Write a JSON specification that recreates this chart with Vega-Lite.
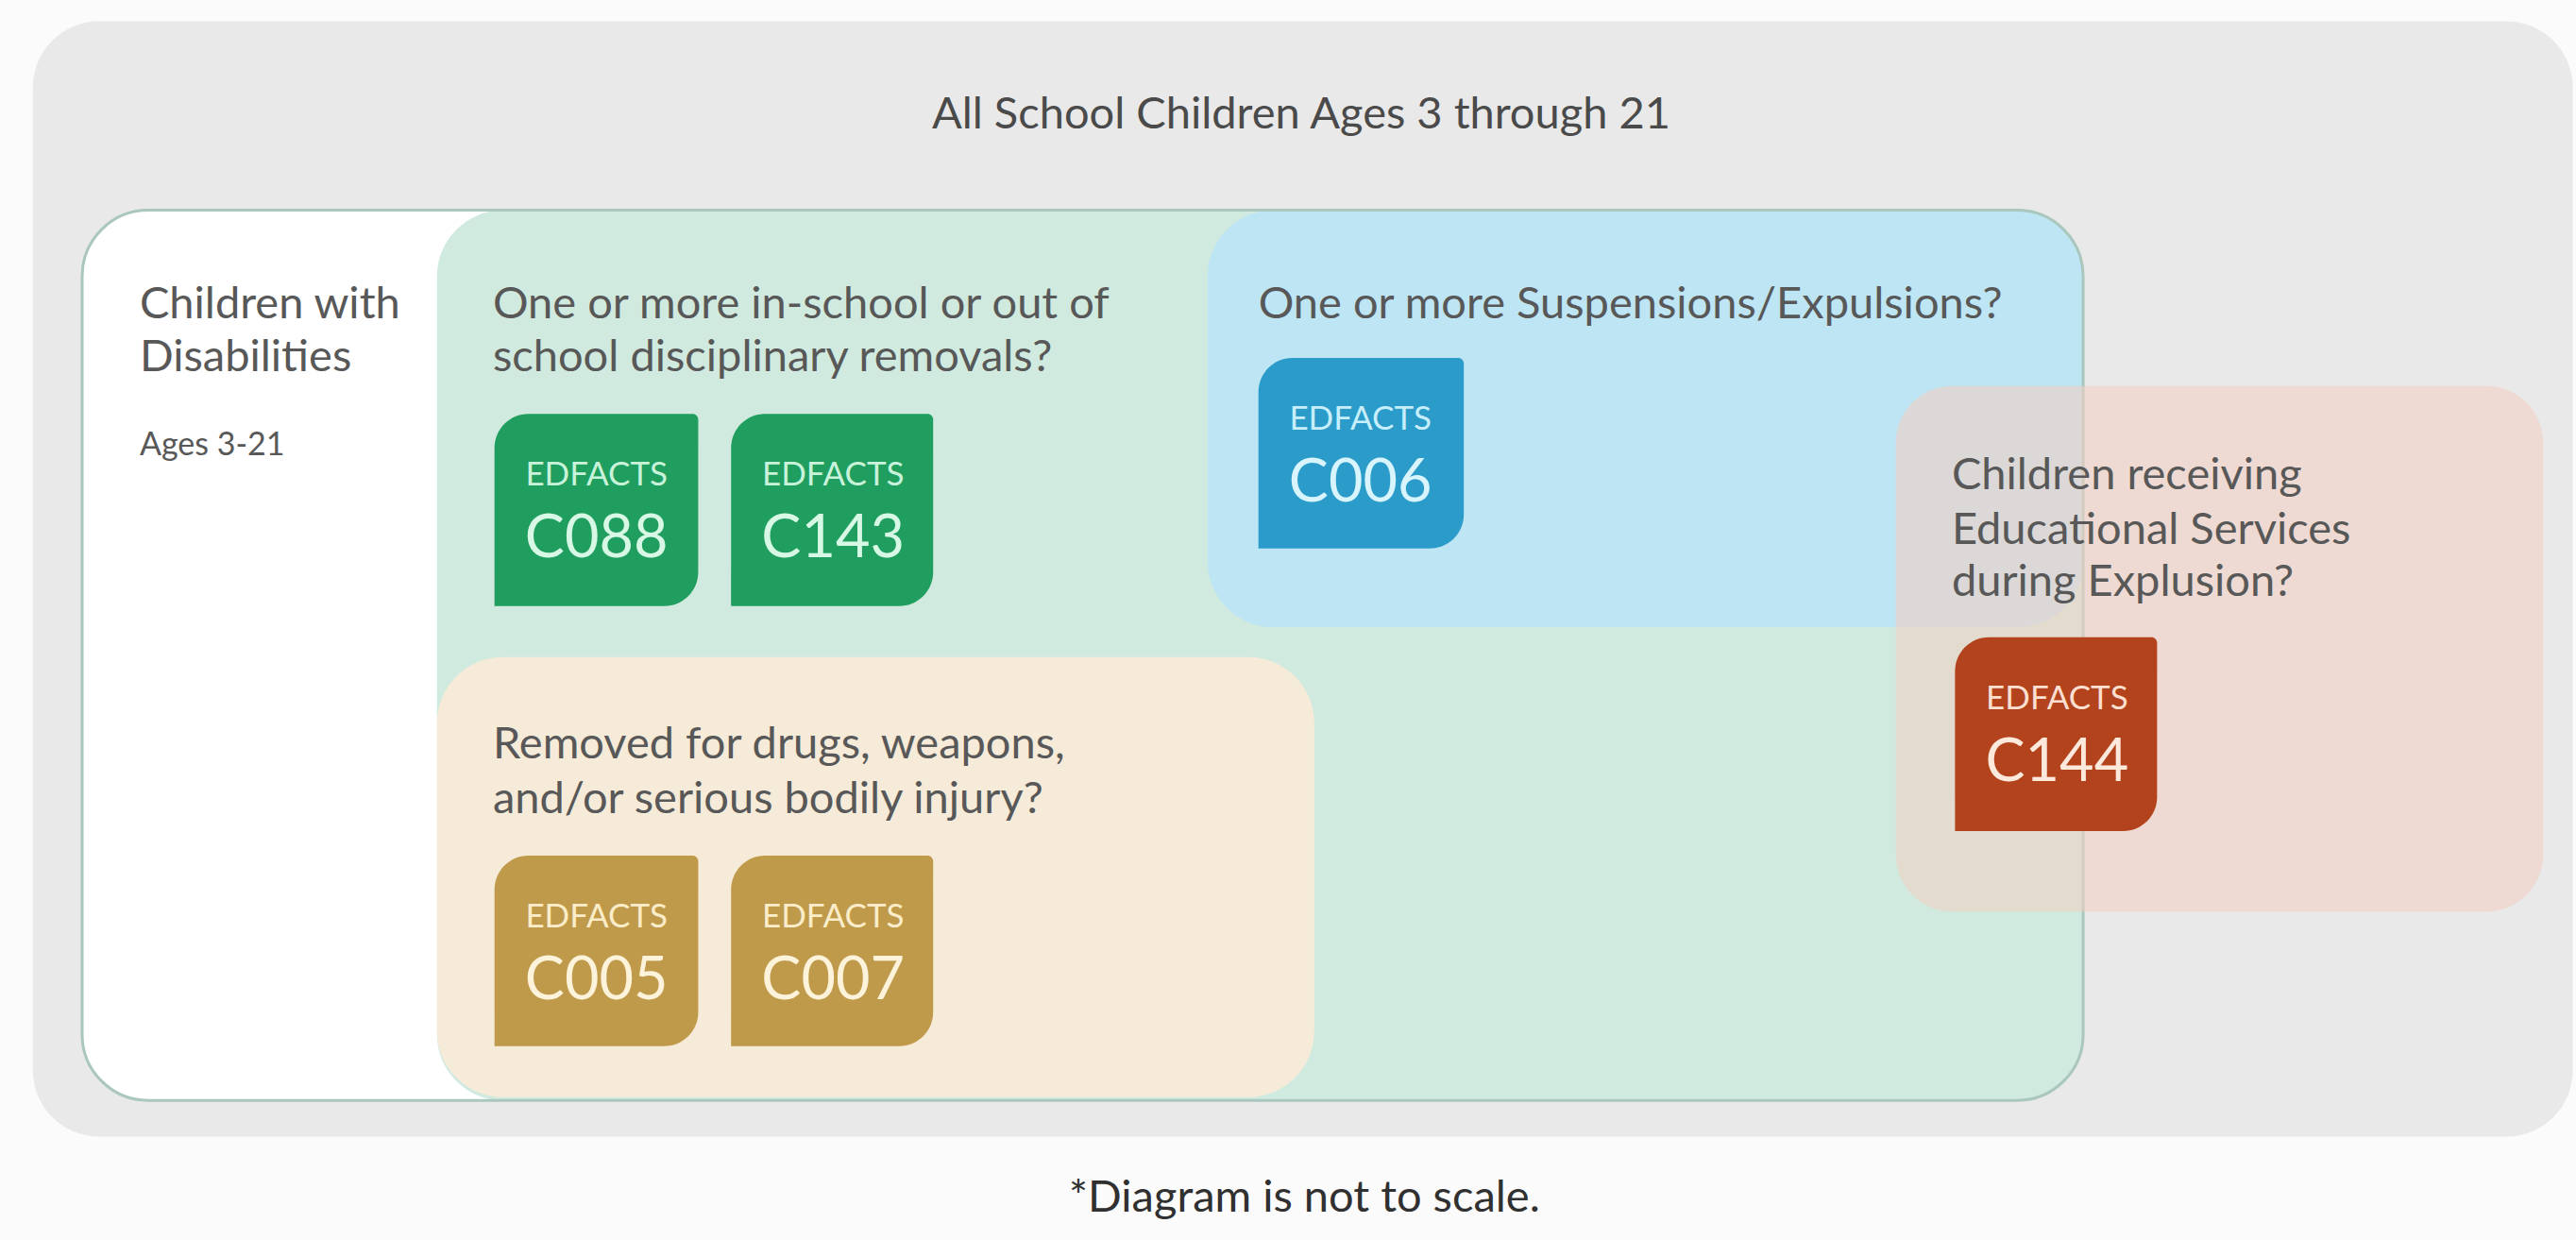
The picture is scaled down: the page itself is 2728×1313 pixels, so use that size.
{
  "$schema": "https://vega.github.io/schema/vega-lite/v6.json",
  "width": 2728,
  "height": 1313,
  "autosize": {"type": "fit", "contains": "padding"},
  "padding": 0,
  "background": "#fbfbfb",
  "config": {"view": {"stroke": null}, "axis": {"disable": true}, "text": {"font": "Lato"}},
  "datasets": {
    "regions": [
      {"name": "All School Children", "x": 20, "x2": 1566, "y": 13, "y2": 692},
      {"name": "Children with Disabilities", "x": 50, "x2": 1268, "y": 128, "y2": 670},
      {"name": "Disciplinary removals", "x": 266, "x2": 1268, "y": 128, "y2": 670},
      {"name": "Suspensions/Expulsions", "x": 735, "x2": 1268, "y": 128, "y2": 382},
      {"name": "Drugs/weapons/injury", "x": 266, "x2": 800, "y": 400, "y2": 668}
    ],
    "services": [
      {"name": "Educational Services during Expulsion", "x": 1154, "x2": 1548, "y": 235, "y2": 555}
    ],
    "badges": [
      {"code": "C088", "grp": "removal", "x": 301, "x2": 425, "y": 252, "y2": 369},
      {"code": "C143", "grp": "removal", "x": 445, "x2": 568, "y": 252, "y2": 369},
      {"code": "C006", "grp": "suspension", "x": 766, "x2": 891, "y": 218, "y2": 334},
      {"code": "C005", "grp": "drugs", "x": 301, "x2": 425, "y": 521, "y2": 637},
      {"code": "C007", "grp": "drugs", "x": 445, "x2": 568, "y": 521, "y2": 637},
      {"code": "C144", "grp": "services", "x": 1190, "x2": 1313, "y": 388, "y2": 506}
    ],
    "labels": [
      {"t": "Children with", "x": 85, "y": 194},
      {"t": "Disabilities", "x": 85, "y": 226},
      {"t": "One or more in-school or out of", "x": 300, "y": 194},
      {"t": "school disciplinary removals?", "x": 300, "y": 226},
      {"t": "One or more Suspensions/Expulsions?", "x": 766, "y": 194},
      {"t": "Children receiving", "x": 1188, "y": 298},
      {"t": "Educational Services", "x": 1188, "y": 331},
      {"t": "during Explusion?", "x": 1188, "y": 363},
      {"t": "Removed for drugs, weapons,", "x": 300, "y": 462},
      {"t": "and/or serious bodily injury?", "x": 300, "y": 495}
    ],
    "small": [{"t": "Ages 3-21", "x": 85, "y": 277}],
    "title": [{"t": "All School Children Ages 3 through 21", "x": 792, "y": 78}],
    "footer": [{"t": "*Diagram is not to scale.", "x": 794, "y": 738}]
  },
  "resolve": {"scale": {"color": "independent"}},
  "layer": [
    {
      "data": {"name": "regions"},
      "mark": {"type": "rect", "cornerRadius": 70},
      "encoding": {
        "x": {"field": "x", "type": "quantitative", "scale": {"domain": [0, 1568], "nice": false, "zero": false}},
        "x2": {"field": "x2"},
        "y": {"field": "y", "type": "quantitative", "scale": {"domain": [755, 0], "nice": false, "zero": false}},
        "y2": {"field": "y2"},
        "color": {"field": "name", "type": "nominal", "legend": null,
          "scale": {"domain": ["All School Children", "Children with Disabilities", "Disciplinary removals", "Suspensions/Expulsions", "Drugs/weapons/injury"],
                    "range": ["#e9e9e9", "#ffffff", "#d1eadf", "#bee5f4", "#f6ebd8"]}}
      }
    },
    {
      "data": {"name": "regions"},
      "transform": [{"filter": "datum.name === 'Children with Disabilities'"}],
      "mark": {"type": "rect", "cornerRadius": 70, "fill": "transparent", "stroke": "#aac7bd", "strokeWidth": 3},
      "encoding": {
        "x": {"field": "x", "type": "quantitative", "scale": {"domain": [0, 1568], "nice": false, "zero": false}},
        "x2": {"field": "x2"},
        "y": {"field": "y", "type": "quantitative", "scale": {"domain": [755, 0], "nice": false, "zero": false}},
        "y2": {"field": "y2"}
      }
    },
    {
      "data": {"name": "services"},
      "mark": {"type": "rect", "cornerRadius": 60, "fill": "#f3cdbf", "opacity": 0.55},
      "encoding": {
        "x": {"field": "x", "type": "quantitative", "scale": {"domain": [0, 1568], "nice": false, "zero": false}},
        "x2": {"field": "x2"},
        "y": {"field": "y", "type": "quantitative", "scale": {"domain": [755, 0], "nice": false, "zero": false}},
        "y2": {"field": "y2"}
      }
    },
    {
      "data": {"name": "badges"},
      "mark": {"type": "rect", "cornerRadiusTopLeft": 36, "cornerRadiusBottomRight": 36, "cornerRadiusTopRight": 6},
      "encoding": {
        "x": {"field": "x", "type": "quantitative", "scale": {"domain": [0, 1568], "nice": false, "zero": false}},
        "x2": {"field": "x2"},
        "y": {"field": "y", "type": "quantitative", "scale": {"domain": [755, 0], "nice": false, "zero": false}},
        "y2": {"field": "y2"},
        "color": {"field": "grp", "type": "nominal", "legend": null,
          "scale": {"domain": ["removal", "suspension", "drugs", "services"], "range": ["#1f9e5f", "#2b9cc9", "#c09a4b", "#b3431d"]}}
      }
    },
    {
      "data": {"name": "badges"},
      "mark": {"type": "text", "align": "center", "baseline": "alphabetic", "dx": 108, "dy": 76, "fontSize": 35, "font": "Lato"},
      "encoding": {
        "x": {"field": "x", "type": "quantitative", "scale": {"domain": [0, 1568], "nice": false, "zero": false}},
        "y": {"field": "y", "type": "quantitative", "scale": {"domain": [755, 0], "nice": false, "zero": false}},
        "text": {"value": "EDFACTS"},
        "color": {"field": "grp", "type": "nominal", "legend": null,
          "scale": {"domain": ["removal", "suspension", "drugs", "services"], "range": ["#c8f3da", "#c6eefb", "#fbedc9", "#fbdfd0"]}}
      }
    },
    {
      "data": {"name": "badges"},
      "mark": {"type": "text", "align": "center", "baseline": "alphabetic", "dx": 108, "dy": 152, "fontSize": 63, "font": "Lato"},
      "encoding": {
        "x": {"field": "x", "type": "quantitative", "scale": {"domain": [0, 1568], "nice": false, "zero": false}},
        "y": {"field": "y", "type": "quantitative", "scale": {"domain": [755, 0], "nice": false, "zero": false}},
        "text": {"field": "code"},
        "color": {"field": "grp", "type": "nominal", "legend": null,
          "scale": {"domain": ["removal", "suspension", "drugs", "services"], "range": ["#d8f8e6", "#d8f4fc", "#fdf3db", "#fde8dc"]}}
      }
    },
    {
      "data": {"name": "labels"},
      "mark": {"type": "text", "align": "left", "baseline": "alphabetic", "fontSize": 47, "font": "Lato", "color": "#585858"},
      "encoding": {
        "x": {"field": "x", "type": "quantitative", "scale": {"domain": [0, 1568], "nice": false, "zero": false}},
        "y": {"field": "y", "type": "quantitative", "scale": {"domain": [755, 0], "nice": false, "zero": false}},
        "text": {"field": "t"}
      }
    },
    {
      "data": {"name": "small"},
      "mark": {"type": "text", "align": "left", "baseline": "alphabetic", "fontSize": 34, "font": "Lato", "color": "#585858"},
      "encoding": {
        "x": {"field": "x", "type": "quantitative", "scale": {"domain": [0, 1568], "nice": false, "zero": false}},
        "y": {"field": "y", "type": "quantitative", "scale": {"domain": [755, 0], "nice": false, "zero": false}},
        "text": {"field": "t"}
      }
    },
    {
      "data": {"name": "title"},
      "mark": {"type": "text", "align": "center", "baseline": "alphabetic", "fontSize": 47, "font": "Lato", "color": "#4a4a4a"},
      "encoding": {
        "x": {"field": "x", "type": "quantitative", "scale": {"domain": [0, 1568], "nice": false, "zero": false}},
        "y": {"field": "y", "type": "quantitative", "scale": {"domain": [755, 0], "nice": false, "zero": false}},
        "text": {"field": "t"}
      }
    },
    {
      "data": {"name": "footer"},
      "mark": {"type": "text", "align": "center", "baseline": "alphabetic", "fontSize": 47, "font": "Lato", "color": "#303030"},
      "encoding": {
        "x": {"field": "x", "type": "quantitative", "scale": {"domain": [0, 1568], "nice": false, "zero": false}},
        "y": {"field": "y", "type": "quantitative", "scale": {"domain": [755, 0], "nice": false, "zero": false}},
        "text": {"field": "t"}
      }
    }
  ]
}
